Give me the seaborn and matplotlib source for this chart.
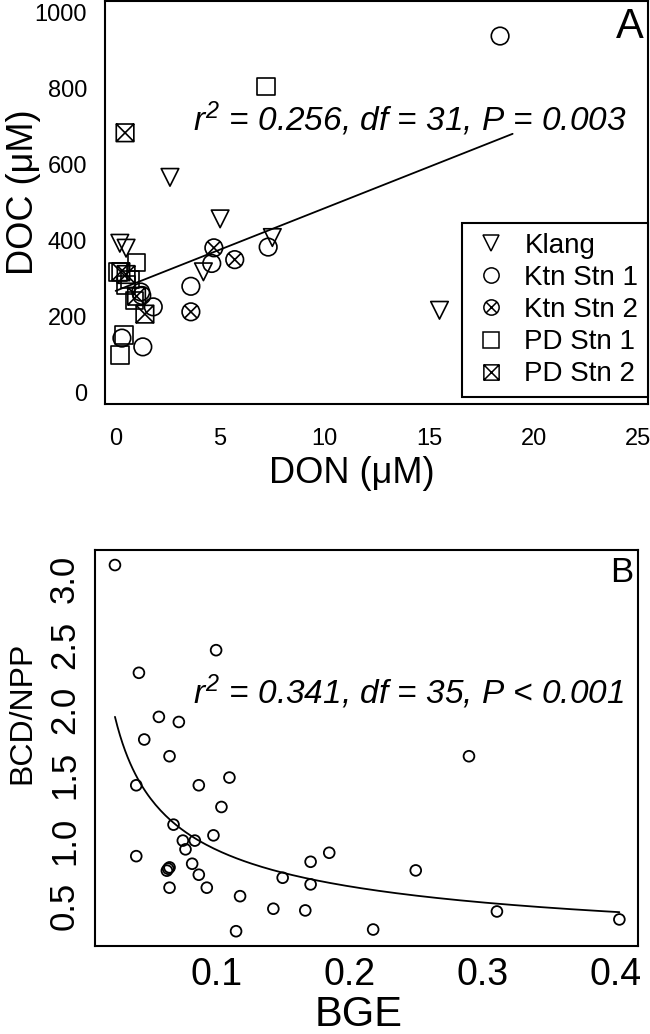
import numpy as np
import pandas as pd
import matplotlib
matplotlib.use("Agg")
import matplotlib.pyplot as plt
from matplotlib.path import Path
from matplotlib.lines import Line2D
import seaborn as sns

# ---- Panel A data: DON vs DOC by station ----
klang_don = [0.2, 0.5, 2.6, 4.2, 5.0, 7.5, 15.5]
klang_doc = [393, 380, 566, 318, 457, 408, 217]
ktn1_don = [0.3, 1.2, 1.25, 1.3, 1.8, 3.6, 4.6, 7.3, 18.4]
ktn1_doc = [144, 265, 256, 121, 226, 280, 340, 383, 937]
ktn2_don = [3.6, 4.7, 5.7]
ktn2_doc = [213, 381, 350]
pd1_don = [0.1, 0.2, 0.4, 0.5, 0.7, 0.9, 1.0, 7.2]
pd1_doc = [318, 99, 152, 283, 298, 243, 342, 804]
pd2_don = [0.25, 0.45, 0.5, 1.0, 1.4]
pd2_doc = [318, 683, 311, 254, 207]
stations = ["Klang", "Ktn Stn 1", "Ktn Stn 2", "PD Stn 1", "PD Stn 2"]

# linear fit
fit_a_intercept = 268.0
fit_a_slope = 21.7
fit_a_xrange = [0.0, 19.0]

# ---- Panel B data: BGE vs BCD/NPP ----
bge = [0.024, 0.100, 0.042, 0.057, 0.072, 0.046, 0.065, 0.110, 0.040, 0.087,
       0.104, 0.068, 0.098, 0.075, 0.084, 0.077, 0.040, 0.185, 0.171, 0.082,
       0.064, 0.063, 0.087, 0.150, 0.171, 0.065, 0.093, 0.118, 0.143, 0.167,
       0.115, 0.218, 0.290, 0.250, 0.311, 0.403, 0.065]
bcd_npp = [3.107, 2.456, 2.283, 1.946, 1.907, 1.773, 1.645, 1.482, 1.423, 1.423,
           1.257, 1.122, 1.040, 1.000, 1.000, 0.933, 0.881, 0.907, 0.838, 0.823,
           0.785, 0.770, 0.739, 0.716, 0.665, 0.640, 0.640, 0.575, 0.479, 0.466,
           0.307, 0.320, 1.645, 0.772, 0.458, 0.397, 0.795]

# power-law fit y = a * x^b
fit_b_a = 0.283
fit_b_b = -0.517
fit_b_xrange = [0.024, 0.403]

sns.set_style("white")
plt.rcParams["font.family"] = ["Liberation Sans", "DejaVu Sans"]
plt.rcParams["mathtext.fontset"] = "custom"
plt.rcParams["mathtext.rm"] = "Liberation Sans"
plt.rcParams["mathtext.it"] = "Liberation Sans:italic"
for key in ["text.color", "axes.labelcolor", "xtick.color", "ytick.color"]:
    plt.rcParams[key] = "black"

df_a = pd.DataFrame({
    "DON": klang_don + ktn1_don + ktn2_don + pd1_don + pd2_don,
    "DOC": klang_doc + ktn1_doc + ktn2_doc + pd1_doc + pd2_doc,
    "station": (["Klang"] * len(klang_don) + ["Ktn Stn 1"] * len(ktn1_don)
                + ["Ktn Stn 2"] * len(ktn2_don) + ["PD Stn 1"] * len(pd1_don)
                + ["PD Stn 2"] * len(pd2_don)),
})
df_b = pd.DataFrame({"BGE": bge, "BCD/NPP": bcd_npp})

# marker shapes: circle with x, square with x
circ = Path.unit_circle()
d = np.sqrt(0.5)
xlines = Path([(-d, -d), (d, d), (-d, d), (d, -d)],
              [Path.MOVETO, Path.LINETO, Path.MOVETO, Path.LINETO])
circle_x = Path.make_compound_path(circ, xlines)
sq = Path([(-1, -1), (1, -1), (1, 1), (-1, 1), (-1, -1)],
          [Path.MOVETO, Path.LINETO, Path.LINETO, Path.LINETO, Path.CLOSEPOLY])
sqlines = Path([(-1, -1), (1, 1), (-1, 1), (1, -1)],
               [Path.MOVETO, Path.LINETO, Path.MOVETO, Path.LINETO])
square_x = Path.make_compound_path(sq, sqlines)
marker_map = {"Klang": "v", "Ktn Stn 1": "o", "Ktn Stn 2": circle_x,
              "PD Stn 1": "s", "PD Stn 2": square_x}

fig = plt.figure(figsize=(6.5, 10.34), dpi=100)
W, H = 650, 1034
ax1 = fig.add_axes([105 / W, 1 - 404 / H, 543 / W, 403 / H])
ax2 = fig.add_axes([95 / W, 1 - 946 / H, 543 / W, 396 / H])

# ---------- Panel A ----------
sns.scatterplot(data=df_a, x="DON", y="DOC", style="station", markers=marker_map,
                style_order=stations, s=160, fc="none", ec="black",
                linewidth=1.2, legend=False, ax=ax1, zorder=3)
line_x = np.linspace(fit_a_xrange[0], fit_a_xrange[1], 50)
sns.lineplot(x=line_x, y=fit_a_intercept + fit_a_slope * line_x, color="black",
             lw=1.3, ax=ax1)
ax1.set_xlim(-0.51, 25.48)
ax1.set_ylim(-29, 1029)
ax1.set_xticks([0, 5, 10, 15, 20, 25])
ax1.set_yticks([0, 200, 400, 600, 800, 1000])
ax1.tick_params(axis="x", length=8, width=1.3, pad=9, labelsize=17)
ax1.tick_params(axis="y", length=8, width=1.3, pad=5, labelsize=17)
ax1.set_xlabel("DON (μM)", fontsize=26)
ax1.set_ylabel("DOC (μM)", fontsize=26)
ax1.xaxis.set_label_coords(0.455, -0.13)
ax1.yaxis.set_label_coords(-0.118, 0.526)
ax1.text(0.992, 0.985, "A", transform=ax1.transAxes, ha="right", va="top", fontsize=30)
ax1.text(3.7, 688, r"$\mathit{r}^{\mathregular{2}}$ = 0.256, df = 31, P = 0.003",
         fontsize=24, style="italic", ha="left", va="baseline")

handles = [Line2D([], [], ls="none", marker=marker_map[s], markersize=11,
                  mfc="none", mec="black", mew=1.1) for s in stations]
leg = ax1.legend(handles, stations, loc="lower right", bbox_to_anchor=(1.0, 0.017),
                 borderaxespad=0, fontsize=20, frameon=True, fancybox=False,
                 framealpha=1, edgecolor="black", handlelength=1.4,
                 handletextpad=0.5, labelspacing=0.22, borderpad=0.35)
leg.get_frame().set_linewidth(1.5)

# ---------- Panel B ----------
sns.scatterplot(data=df_b, x="BGE", y="BCD/NPP", marker="o", s=60, fc="none",
                ec="black", linewidth=1.3, ax=ax2, zorder=3)
cx = np.linspace(fit_b_xrange[0], fit_b_xrange[1], 200)
sns.lineplot(x=cx, y=fit_b_a * cx ** fit_b_b, color="black", lw=1.3, ax=ax2)
ax2.set_xlim(0.009, 0.417)
ax2.set_ylim(0.194, 3.222)
ax2.set_xticks([0.1, 0.2, 0.3, 0.4])
ax2.set_xticklabels(["0.1", "0.2", "0.3", "0.4"])
ax2.set_yticks([0.5, 1.0, 1.5, 2.0, 2.5, 3.0])
ax2.set_yticklabels(["0.5", "1.0", "1.5", "2.0", "2.5", "3.0"], rotation=90,
                    va="center")
ax2.tick_params(axis="x", length=8, width=1.3, pad=0, labelsize=27)
ax2.tick_params(axis="y", length=8, width=1.3, pad=2, labelsize=25)
ax2.set_xlabel("BGE", fontsize=30)
ax2.set_ylabel("BCD/NPP", fontsize=23)
ax2.xaxis.set_label_coords(0.486, -0.125)
ax2.yaxis.set_label_coords(-0.107, 0.588)
ax2.text(0.992, 0.985, "B", transform=ax2.transAxes, ha="right", va="top", fontsize=25)
ax2.text(0.0827, 2.05, r"$\mathit{r}^{\mathregular{2}}$ = 0.341, df = 35, P < 0.001",
         fontsize=24, style="italic", ha="left", va="baseline")

for ax in (ax1, ax2):
    for sp in ax.spines.values():
        sp.set_visible(True)
        sp.set_color("black")
        sp.set_linewidth(1.5)

fig.savefig("out.png", dpi=100)
